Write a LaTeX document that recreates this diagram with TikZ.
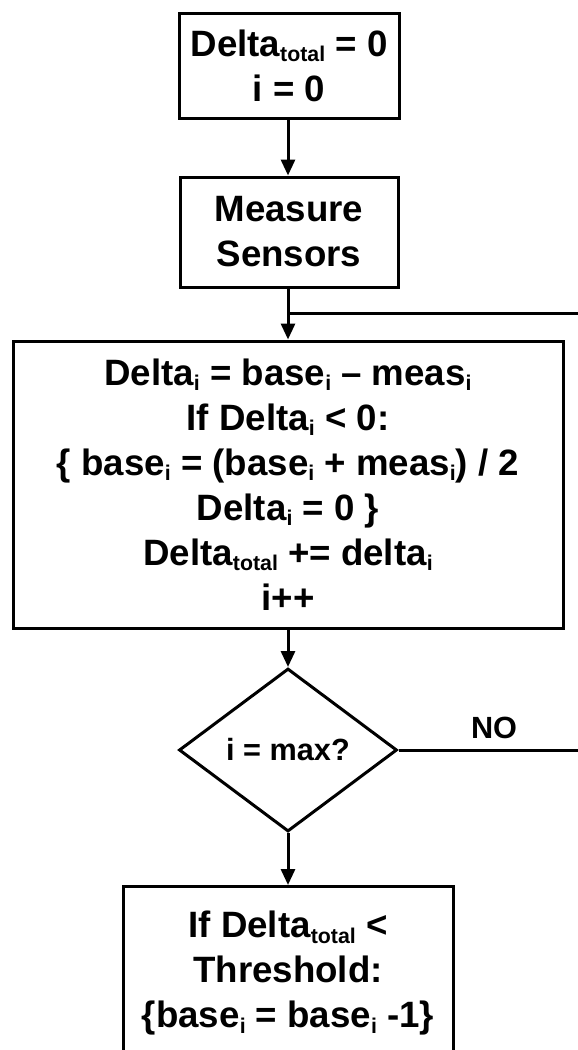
\documentclass[tikz,border=0pt]{standalone}
\usepackage{fontspec}
\setmainfont{Liberation Sans}
\usetikzlibrary{shapes.geometric,arrows.meta}
\newcommand\lo[1]{\raisebox{-3.9pt}{\fontsize{16}{16}\selectfont #1}}
\begin{document}
\begin{tikzpicture}[x=0.75pt,y=-0.75pt,
  box/.style={draw,line width=2.25pt,align=center,inner sep=0pt,
    font=\bfseries\fontsize{27.5}{33.75}\selectfont},
  dec/.style={draw,diamond,line width=2.25pt,aspect=1.337,inner sep=0pt,
    minimum width=163.5pt,minimum height=122.25pt,
    font=\bfseries\fontsize{23}{26}\selectfont},
  conn/.style={line width=2.25pt},
  arr/.style={conn,-{Triangle[length=12pt,width=10.5pt]}},
  lab/.style={font=\bfseries\fontsize{23}{26}\selectfont}]
\clip (0,0) rectangle (578,1050);
\node[box,minimum width=165pt,minimum height=78.75pt] (init) at (289,65.5)
  {Delta\lo{total} = 0\\i = 0};
\node[box,minimum width=163.5pt,minimum height=82.5pt] (meas) at (289,232)
  {Measure\\Sensors};
\node[box,minimum width=412.5pt,minimum height=215.25pt] (calc) at (288,484.5)
  {Delta\lo{i} = base\lo{i} – meas\lo{i}\\
   If Delta\lo{i} < 0:\\
   \{ base\lo{i} = (base\lo{i} + meas\lo{i}) / 2\\
   Delta\lo{i} = 0 \}\\
   Delta\lo{total} += delta\lo{i}\\
   i++};
\node[dec] (dec) at (288,750) {i = max?};
\node[box,anchor=north,minimum width=247.5pt,minimum height=130.5pt] (thr) at (288,885)
  {If Delta\lo{total} <\\Threshold:\\\{base\lo{i} = base\lo{i} -1\}};
\coordinate (loopR) at (578,313);
\coordinate (noR) at (578,750);
\draw[arr] (init.south -| calc.north) -- (meas.north -| calc.north);
\draw[arr] (meas.south -| calc.north) -- (calc.north);
\draw[conn] (loopR) -- (loopR -| calc.north);
\draw[arr] (calc.south) -- (dec.north);
\draw[arr] (dec.south) -- (thr.north);
\draw[conn] (dec.east) -- (noR);
\node[lab] (no) at (494,728) {NO};
\end{tikzpicture}
\end{document}
